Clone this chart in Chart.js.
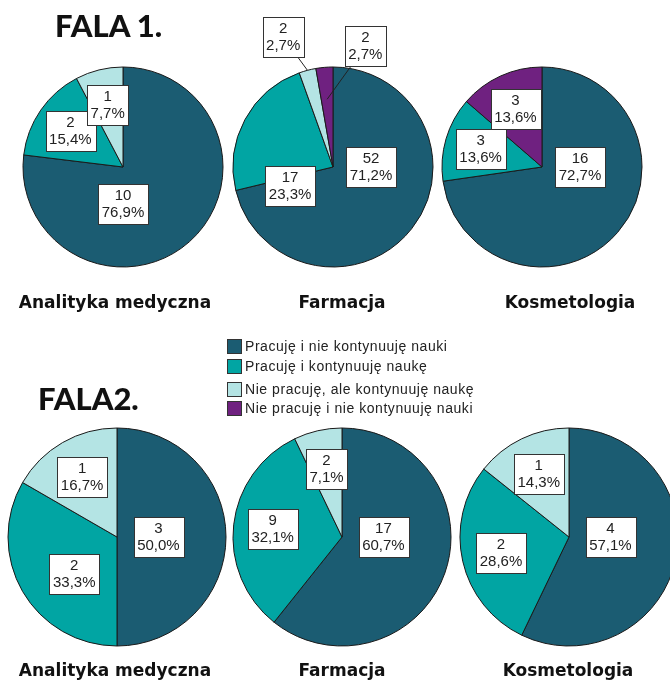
<!DOCTYPE html>
<html>
<head>
<meta charset="utf-8">
<script src="https://cdn.jsdelivr.net/npm/chart.js@4.4.0/dist/chart.umd.min.js"></script>
<style>
    body { margin: 0; background: #fff; }
    #wrap { position: relative; width: 670px; height: 682px; overflow: hidden; background: #fff; }
    canvas { position: absolute; }
    .txt { position: absolute; white-space: nowrap; }
    .wave { font-family: Lato; font-weight: 900; font-size: 31px; line-height: 30px; color: #111; }
    .cat { font-family: "DejaVu Sans"; font-weight: bold; font-size: 17px; line-height: 20px; color: #111; transform: translateX(-50%); }
    .leg { font-family: "Liberation Sans"; font-size: 14px; letter-spacing: 0.55px; line-height: 16px; color: #222; }
    .leg i { position: absolute; left: -18px; top: 1px; width: 13px; height: 13px; border: 1px solid #333; }
</style>
</head>
<body>
<div id="wrap"></div>
<script>
// categories (faculties) and legend series
const categories = ['Analityka medyczna', 'Farmacja', 'Kosmetologia'];
const seriesNames = [
    'Pracuję i nie kontynuuję nauki',
    'Pracuję i kontynuuję naukę',
    'Nie pracuję, ale kontynuuję naukę',
    'Nie pracuję i nie kontynuuję nauki'
];
const seriesColors = ['#1b5c72', '#01a5a3', '#b4e4e4', '#6f2180'];

// wave 1 counts per category
const wave1Work = [10, 52, 16];
const wave1WorkStudy = [2, 17, 3];
const wave1Study = [1, 2, 0];
const wave1None = [0, 2, 3];

// wave 2 counts per category
const wave2Work = [3, 17, 4];
const wave2WorkStudy = [2, 9, 2];
const wave2Study = [1, 2, 1];
const wave2None = [0, 0, 0];

const waves = [
    [wave1Work, wave1WorkStudy, wave1Study, wave1None],
    [wave2Work, wave2WorkStudy, wave2Study, wave2None]
];

// layout of the six pies
const pieLayout = [
    { cx: 123, cy: 167, r: 100 }, { cx: 333, cy: 167, r: 100 }, { cx: 542, cy: 167, r: 100 },
    { cx: 117, cy: 537, r: 109 }, { cx: 342, cy: 537, r: 109 }, { cx: 569, cy: 537, r: 109 }
];
const catLabelX = [[115, 342, 570], [115, 342, 568]];
const catLabelTop = [292, 660];

// label spots that break the default rule: [deg clockwise from top, fraction of radius, leader end]
const labelSpots = {
    '0-0': [180, 0.37],
    '1-1': [246, 0.47],
    '1-2': [339, 1.39, 1.0],
    '1-3': [15, 1.25, 0.68],
    '3-1': [229, 0.52]
};

const boxLabels = {
    id: 'boxLabels',
    afterDatasetsDraw(chart, args, opts) {
        const ctx = chart.ctx;
        const values = chart.data.datasets[0].data;
        const total = values.reduce((a, b) => a + b, 0);
        const arcs = chart.getDatasetMeta(0).data;
        ctx.save();
        ctx.font = '15px "Liberation Sans", Arial, sans-serif';
        ctx.textAlign = 'center';
        ctx.textBaseline = 'middle';
        arcs.forEach((arc, i) => {
            const v = values[i];
            if (!v) return;
            const p = arc.getProps(['x', 'y', 'startAngle', 'endAngle', 'outerRadius'], true);
            const mid = (p.startAngle + p.endAngle) / 2;
            let ang = mid, frac = 0.64, lead = null;
            if (i === 0) { ang = 0; frac = 0.38; }
            const spot = labelSpots[opts.key + '-' + i];
            if (spot) {
                ang = (spot[0] - 90) * Math.PI / 180;
                frac = spot[1];
                if (spot[2]) lead = spot[2];
            }
            const lx = p.x + Math.cos(ang) * frac * p.outerRadius;
            const ly = p.y + Math.sin(ang) * frac * p.outerRadius;
            const lines = [String(v), (v / total * 100).toFixed(1).replace('.', ',') + '%'];
            const w = Math.max(...lines.map(s => ctx.measureText(s).width)) + 7;
            const h = 40;
            if (lead) {
                const tx = p.x + Math.cos(mid) * lead * p.outerRadius;
                const ty = p.y + Math.sin(mid) * lead * p.outerRadius;
                const dx = tx - lx, dy = ty - ly;
                const t = Math.min(Math.abs((w / 2) / (dx || 1e-6)), Math.abs((h / 2) / (dy || 1e-6)));
                ctx.beginPath();
                ctx.moveTo(lx + dx * t, ly + dy * t);
                ctx.lineTo(tx, ty);
                ctx.strokeStyle = '#222';
                ctx.lineWidth = 1;
                ctx.stroke();
            }
            const bx = Math.round(lx - w / 2) + 0.5, by = Math.round(ly - h / 2) + 0.5;
            ctx.fillStyle = '#fff';
            ctx.fillRect(bx, by, Math.round(w), h);
            ctx.strokeStyle = '#333';
            ctx.lineWidth = 1;
            ctx.strokeRect(bx, by, Math.round(w), h);
            ctx.fillStyle = '#222';
            ctx.fillText(lines[0], lx, ly - 8);
            ctx.fillText(lines[1], lx, ly + 9);
        });
        ctx.restore();
    }
};

const wrap = document.getElementById('wrap');

function addText(cls, text, left, top) {
    const d = document.createElement('div');
    d.className = 'txt ' + cls;
    d.textContent = text;
    d.style.left = left + 'px';
    d.style.top = top + 'px';
    wrap.appendChild(d);
    return d;
}

waves.forEach((series, w) => {
    categories.forEach((cat, c) => {
        const k = w * 3 + c;
        const lay = pieLayout[k];
        const size = 2 * (lay.r + 70);
        const canvas = document.createElement('canvas');
        canvas.width = size;
        canvas.height = size;
        canvas.style.left = (lay.cx - size / 2) + 'px';
        canvas.style.top = (lay.cy - size / 2) + 'px';
        wrap.appendChild(canvas);

        new Chart(canvas.getContext('2d'), {
            type: 'pie',
            data: {
                labels: seriesNames,
                datasets: [{
                    data: series.map(s => s[c]),
                    backgroundColor: seriesColors,
                    borderColor: '#1a1a1a',
                    borderWidth: 1,
                    hoverOffset: 0,
                    radius: lay.r
                }]
            },
            options: {
                responsive: false,
                animation: false,
                events: [],
                layout: { padding: 0 },
                plugins: {
                    legend: { display: false },
                    tooltip: { enabled: false },
                    boxLabels: { key: String(k) }
                }
            },
            plugins: [boxLabels]
        });

        addText('cat', cat, catLabelX[w][c], catLabelTop[w]);
    });
});

addText('wave', 'FALA 1.', 55, 10);
addText('wave', 'FALA2.', 38, 383);

const legendTops = [338, 358, 381, 400];
seriesNames.forEach((name, i) => {
    const d = addText('leg', name, 245, legendTops[i]);
    const sw = document.createElement('i');
    sw.style.background = seriesColors[i];
    d.appendChild(sw);
});
</script>
</body>
</html>
